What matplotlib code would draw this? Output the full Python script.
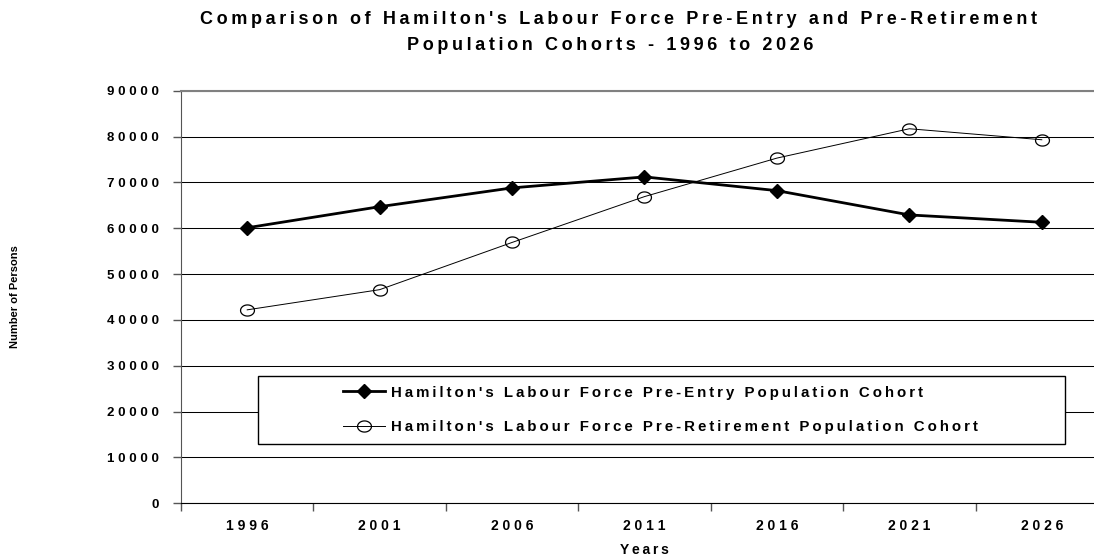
import numpy as np
import matplotlib.pyplot as plt
from matplotlib.lines import Line2D
from matplotlib.patches import Rectangle
from matplotlib.path import Path

years = ['1996', '2001', '2006', '2011', '2016', '2021', '2026']
pre_entry = [60100, 64700, 68800, 71200, 68200, 62900, 61300]
pre_retirement = [42200, 46600, 56900, 66900, 75300, 81700, 79300]
yticks = list(range(0, 90001, 10000))

THIN = '\u2009'
WIDE = '\u2009\u200a'


def spaced(s, gap=THIN):
    # tracked-out bold lettering
    return gap.join(s)


plt.rcParams['font.family'] = ['Liberation Sans', 'DejaVu Sans']

W, H = 1094, 558
fig = plt.figure(figsize=(W / 100, H / 100), dpi=100)
ax = fig.add_axes([181 / W, 1 - 503.3 / H, 927 / W, (503.3 - 90.7) / H])

# slightly flattened open circle
t = np.linspace(0, 2 * np.pi, 60)
ellipse = Path(np.column_stack([np.cos(t), 0.8 * np.sin(t)]), closed=True)

x = np.arange(len(years))
ax.plot(x, pre_entry, color='black', lw=2.0, marker='D', ms=7.5,
        mfc='black', mec='black')
ax.plot(x, pre_retirement, color='black', lw=0.7, marker=ellipse, ms=10,
        mfc='none', mec='black', mew=0.9)

ax.set_xlim(-0.5, len(years) - 0.5)
ax.set_ylim(0, 90000)
ax.set_yticks(yticks)
ax.set_yticklabels([spaced(str(v), WIDE) for v in yticks], fontsize=9.5,
                   fontweight='bold')
ax.yaxis.grid(True, color='black', lw=0.75)
ax.set_axisbelow(True)

ax.set_xticks(np.arange(len(years) + 1) - 0.5)
ax.set_xticklabels([])
ax.set_xticks(x, minor=True)
ax.set_xticklabels([spaced(y, WIDE) for y in years], minor=True, fontsize=10,
                   fontweight='bold')
ax.tick_params(axis='x', which='minor', length=0, pad=11.5)
ax.tick_params(axis='x', which='major', length=6, width=1, color='#555555')
ax.tick_params(axis='y', length=6, width=1, color='#555555', pad=10)

ax.spines['top'].set_color('#808080')
ax.spines['top'].set_linewidth(1.5)
ax.spines['left'].set_color('#555555')
ax.spines['bottom'].set_color('black')
ax.spines['right'].set_visible(False)

ax.set_xlabel(spaced('Years'), fontsize=10, fontweight='bold', labelpad=7)
ax.set_ylabel('Number of Persons', fontsize=8, fontweight='bold')
ax.yaxis.set_label_coords(-(181 - 20) / 927, 0.5)

fig.text(618 / W, 1 - 20 / H,
         spaced("Comparison of Hamilton's Labour Force Pre-Entry and Pre-Retirement"),
         ha='center', va='center', fontsize=13, fontweight='bold')
fig.text(610 / W, 1 - 46 / H, spaced('Population Cohorts - 1996 to 2026'),
         ha='center', va='center', fontsize=13, fontweight='bold')

# legend box drawn separately so the entries can sit well in from its left edge
box = Rectangle((258 / W, 1 - 444 / H), (1065 - 258) / W, (444 - 376) / H,
                transform=fig.transFigure, facecolor='white',
                edgecolor='black', lw=1.0, zorder=5)
fig.add_artist(box)

handles = [
    Line2D([], [], color='black', lw=2.0, marker='D', ms=7.5),
    Line2D([], [], color='black', lw=0.7, marker=ellipse, ms=10, mfc='none',
           mew=0.9),
]
labels = [spaced("Hamilton's Labour Force Pre-Entry Population Cohort"),
          spaced("Hamilton's Labour Force Pre-Retirement Population Cohort")]
leg = fig.legend(handles, labels, loc='center left',
                 bbox_to_anchor=(343 / W, 1 - 410 / H),
                 prop={'weight': 'bold', 'size': 10.8}, frameon=False,
                 borderaxespad=0, borderpad=0, handlelength=2.8,
                 handletextpad=0.4, labelspacing=1.38)
leg.set_zorder(6)

fig.savefig('out.png', dpi=100)
